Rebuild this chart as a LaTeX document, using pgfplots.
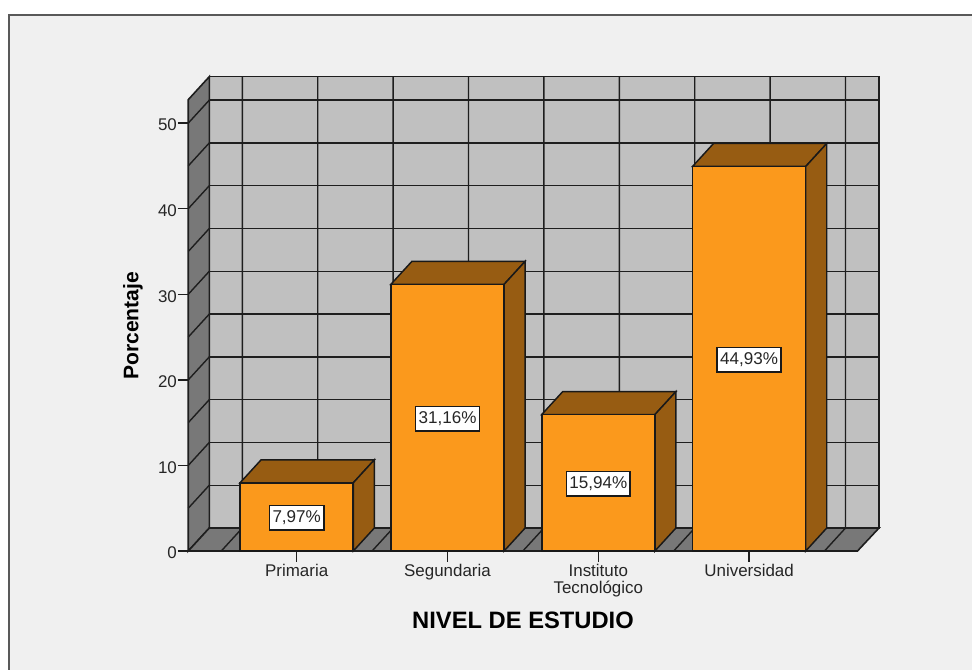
\documentclass[border=0pt]{standalone}
\usepackage{fontspec}
\setmainfont{Liberation Sans}
\usepackage{pgfplots}
\pgfplotsset{compat=1.18}
\definecolor{bgc}{HTML}{F0F0F0}
\definecolor{wallc}{HTML}{C0C0C0}
\definecolor{floorc}{HTML}{787878}
\definecolor{barc}{HTML}{FB991C}
\definecolor{shadec}{HTML}{975C12}
\definecolor{linec}{HTML}{1E1E1E}
\begin{document}
\begin{tikzpicture}
\path[use as bounding box] (-141.375pt,-89.25pt) rectangle (587.625pt,413.25pt);
\fill[white] (-141.375pt,-89.25pt) rectangle (587.625pt,413.25pt);
\fill[bgc] (-134.625pt,-89.25pt) rectangle (587.625pt,402pt);
\draw[color=black!65,line width=1.1pt] (-134.625pt,-89.25pt) -- (-134.625pt,402pt) -- (587.625pt,402pt);
\begin{axis}[
  at={(0pt,0pt)}, anchor=south west,
  scale only axis, width=501.75pt, height=338.25pt,
  xmin=-0.7175, xmax=3.7188, ymin=0, ymax=52.7,
  clip=false,
  axis x line*=bottom, axis y line*=left,
  axis line style={-,color=linec,line width=1.1pt},
  xtick={0,1,2,3},
  xticklabels={Primaria,Segundaria,{Instituto\\Tecnológico},Universidad},
  ytick={0,10,20,30,40,50},
  tick align=outside, major tick length=8pt,
  tick style={color=linec,line width=1.1pt},
  /pgf/number format/assume math mode=true,
  xticklabel style={font=\fontsize{12.7}{12.5}\selectfont,align=center,color=black!85,yshift=-1pt,inner sep=1pt,anchor=north},
  yticklabel style={font=\fontsize{12.7}{15}\selectfont,color=black!85,yshift=-1.5pt,inner sep=0pt,xshift=-0.5pt},
  xlabel={NIVEL DE ESTUDIO},
  ylabel={Porcentaje},
  every axis x label/.style={at={(axis description cs:0.5,-0.153)},anchor=center,font=\fontsize{17.8}{20}\bfseries\selectfont},
  every axis y label/.style={at={(axis description cs:-0.083,0.499)},anchor=center,rotate=90,font=\fontsize{15.8}{18}\bfseries\selectfont},
  unbounded coords=jump,
]
% walls
\addplot[fill=wallc,draw=linec,line width=1.2pt] coordinates {(-0.5794,2.687)(3.8614,2.687)(3.8614,55.43)(-0.5794,55.43)} -- cycle;
\addplot[fill=floorc,draw=linec,line width=1.2pt] coordinates {(-0.7189,0)(-0.5794,2.687)(-0.5794,55.43)(-0.7189,52.74)} -- cycle;
\addplot[fill=floorc,draw=linec,line width=1.2pt] coordinates {(-0.7189,0)(3.7188,0)(3.8614,2.687)(-0.5794,2.687)} -- cycle;
% back-wall horizontals
\addplot[color=linec,line width=1.05pt] coordinates {
(-0.5794,7.687)(3.8614,7.687)(0,nan)
(-0.5794,12.687)(3.8614,12.687)(0,nan)
(-0.5794,17.687)(3.8614,17.687)(0,nan)
(-0.5794,22.687)(3.8614,22.687)(0,nan)
(-0.5794,27.687)(3.8614,27.687)(0,nan)
(-0.5794,32.687)(3.8614,32.687)(0,nan)
(-0.5794,37.687)(3.8614,37.687)(0,nan)
(-0.5794,42.687)(3.8614,42.687)(0,nan)
(-0.5794,47.687)(3.8614,47.687)(0,nan)
(-0.5794,52.687)(3.8614,52.687)};
% back-wall verticals and floor diagonals
\addplot[color=linec,line width=1.05pt] coordinates {
(-0.5,0)(-0.3605,2.687)(-0.3605,55.43)(0,nan)
(0,0)(0.1395,2.687)(0.1395,55.43)(0,nan)
(0.5,0)(0.6395,2.687)(0.6395,55.43)(0,nan)
(1,0)(1.1395,2.687)(1.1395,55.43)(0,nan)
(1.5,0)(1.6395,2.687)(1.6395,55.43)(0,nan)
(2,0)(2.1395,2.687)(2.1395,55.43)(0,nan)
(2.5,0)(2.6395,2.687)(2.6395,55.43)(0,nan)
(3,0)(3.1395,2.687)(3.1395,55.43)(0,nan)
(3.5,0)(3.6395,2.687)(3.6395,55.43)};
% left-wall diagonals
\addplot[color=linec,line width=1.05pt] coordinates {
(-0.7189,5)(-0.5794,7.687)(0,nan)
(-0.7189,10)(-0.5794,12.687)(0,nan)
(-0.7189,15)(-0.5794,17.687)(0,nan)
(-0.7189,20)(-0.5794,22.687)(0,nan)
(-0.7189,25)(-0.5794,27.687)(0,nan)
(-0.7189,30)(-0.5794,32.687)(0,nan)
(-0.7189,35)(-0.5794,37.687)(0,nan)
(-0.7189,40)(-0.5794,42.687)(0,nan)
(-0.7189,45)(-0.5794,47.687)(0,nan)
(-0.7189,50)(-0.5794,52.687)};
% bar tops and sides
\addplot[fill=shadec,draw=black!90,line width=1.1pt] coordinates {(-0.3754,7.97)(0.3754,7.97)(0.5149,10.657)(-0.2359,10.657)} -- cycle;
\addplot[fill=shadec,draw=black!90,line width=1.1pt] coordinates {(0.3754,0)(0.5149,2.687)(0.5149,10.657)(0.3754,7.97)} -- cycle;
\addplot[fill=shadec,draw=black!90,line width=1.1pt] coordinates {(0.6246,31.16)(1.3754,31.16)(1.5149,33.847)(0.7641,33.847)} -- cycle;
\addplot[fill=shadec,draw=black!90,line width=1.1pt] coordinates {(1.3754,0)(1.5149,2.687)(1.5149,33.847)(1.3754,31.16)} -- cycle;
\addplot[fill=shadec,draw=black!90,line width=1.1pt] coordinates {(1.6246,15.94)(2.3754,15.94)(2.5149,18.627)(1.7641,18.627)} -- cycle;
\addplot[fill=shadec,draw=black!90,line width=1.1pt] coordinates {(2.3754,0)(2.5149,2.687)(2.5149,18.627)(2.3754,15.94)} -- cycle;
\addplot[fill=shadec,draw=black!90,line width=1.1pt] coordinates {(2.6246,44.93)(3.3754,44.93)(3.5149,47.617)(2.7641,47.617)} -- cycle;
\addplot[fill=shadec,draw=black!90,line width=1.1pt] coordinates {(3.3754,0)(3.5149,2.687)(3.5149,47.617)(3.3754,44.93)} -- cycle;
% bar fronts
\addplot[ybar,bar width=84.75pt,fill=barc,draw=black!90,line width=1.1pt] coordinates {(0,7.97)(1,31.16)(2,15.94)(3,44.93)};
% labels
\addplot[draw=none,point meta=explicit symbolic,
  nodes near coords={\pgfplotspointmeta},
  nodes near coords align=center,
  every node near coord/.style={fill=white,draw=black!90,line width=1.1pt,font=\fontsize{12.8}{15}\selectfont,inner sep=0pt,minimum height=18.5pt,inner xsep=2.2pt,anchor=center,text=black!85,yshift=-0.7pt}]
 coordinates {(0,3.985)[7,97\%] (1,15.58)[31,16\%] (2,7.97)[15,94\%] (3,22.465)[44,93\%]};
\end{axis}
\end{tikzpicture}
\end{document}
